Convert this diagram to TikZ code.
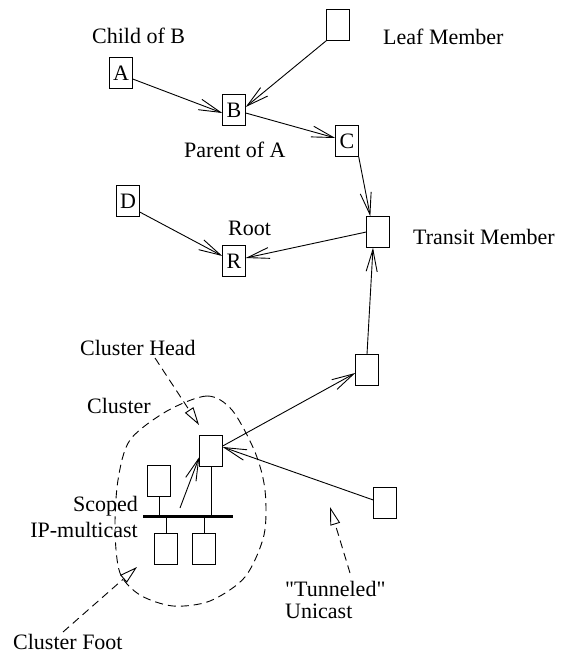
\documentclass[tikz,border=0pt]{standalone}
\usepackage{fontspec}
\setmainfont{Liberation Serif}[Ligatures=TeXOff]
\usetikzlibrary{arrows.meta,calc}
\begin{document}
\begin{tikzpicture}[x=1pt,y=-1pt,
  box/.style={draw,line width=0.9pt,minimum width=22.5pt,minimum height=30.5pt,inner sep=0pt,font=\fontsize{22}{24}\selectfont},
  lbl/.style={inner sep=0pt,anchor=base west,font=\fontsize{22}{24}\selectfont},
  link/.style={line width=0.9pt,-{Straight Barb[length=22pt,width=11pt,line width=0.9pt]}},
  hint/.style={line width=0.9pt,dash pattern=on 8pt off 5pt,-{Triangle[open,length=18pt,width=10pt,line width=0.9pt]}},
  wire/.style={line width=0.9pt},
  dashline/.style={line width=0.9pt,dash pattern=on 8pt off 5pt},
]
\useasboundingbox (0,0) rectangle (561,654);

% boxes
\node[box] (leaf) at (338,25) {};
\node[box] (A) at (121,73) {A};
\node[box] (B) at (234,110) {B};
\node[box] (C) at (347,141) {C};
\node[box] (D) at (128,201) {D};
\node[box] (R) at (234,261) {R};
\node[box] (T) at (378,232) {};
\node[box] (L2) at (367,370) {};
\node[box] (H) at (211,451) {};
\node[box] (RB) at (385,503) {};
\node[box] (S1) at (159,481) {};
\node[box] (S2) at (166,549) {};
\node[box] (S3) at (204,549) {};

% labels
\node[lbl] (childB) at (92,43) {Child of B};
\node[lbl] (parentA) at (184,157) {Parent of A};
\node[lbl] (leafm) at (383,44) {Leaf Member};
\node[lbl] (root) at (228,235) {Root};
\node[lbl] (transm) at (413,244) {Transit Member};
\node[lbl] (chead) at (80,355) {Cluster Head};
\node[lbl] (clus) at (87,413) {Cluster};
\node[lbl,anchor=base east] (scoped) at (138,511) {Scoped};
\node[lbl,anchor=base east] (ipm) at (138,537) {IP-multicast};
\node[lbl] (tun) at (285,596) {"Tunneled"};
\node[lbl] (uni) at (285,618) {Unicast};
\node[lbl] (cfoot) at (13,649) {Cluster Foot};

% bus
\coordinate (busL) at (143,516);
\coordinate (busR) at (233,516);
\draw[line width=3pt] (busL) -- (busR);
\draw[wire] (S1.south) -- (S1.south |- busL);
\draw[wire] (S2.north) -- (S2.north |- busL);
\draw[wire] (S3.north) -- (S3.north |- busL);
\draw[wire] (H.south) -- (H.south |- busL);

% tree links
\draw[link] ($(A.east)+(0,6)$) -- ($(B.west)+(0,3)$);
\draw[link] (leaf.south west) -- ($(B.east)+(0,-3)$);
\draw[link] ($(B.east)+(0,3)$) -- ($(C.west)+(0,-3)$);
\draw[link] (C.south east) -- ($(T.north west)+(4,0)$);
\draw[link] (T.west) -- ($(R.east)+(0,-3)$);
\draw[link] ($(D.east)+(0,11)$) -- ($(R.west)+(0,-5)$);
\draw[link] (L2.north) -- ($(T.south)+(-5,0)$);
\draw[link] ($(H.east)+(0,-5)$) -- ($(L2.west)+(0,3)$);
\draw[link] ($(RB.west)+(0,-3)$) -- ($(H.east)+(0,-4)$);
\coordinate (bs) at (180,508);
\draw[link] (bs) -- ($(H.west)+(0,6)$);

% cluster outline
\draw[dashline] plot[smooth cycle] coordinates {(167,411) (207,396) (232,410) (255,452) (265,490) (264,535) (245,577) (210,601) (173,606) (140,595) (120,573) (115,530) (118,480) (130,440)};

% dashed pointers
\coordinate (chs) at (155,358);
\coordinate (cht) at (199,425);
\draw[hint] (chs) -- (cht);
\coordinate (cfs) at (63,632);
\coordinate (cft) at (137,567);
\draw[hint] (cfs) -- (cft);
\coordinate (tus) at (350,573);
\coordinate (tut) at (330,507);
\draw[hint] (tus) -- (tut);
\end{tikzpicture}
\end{document}
